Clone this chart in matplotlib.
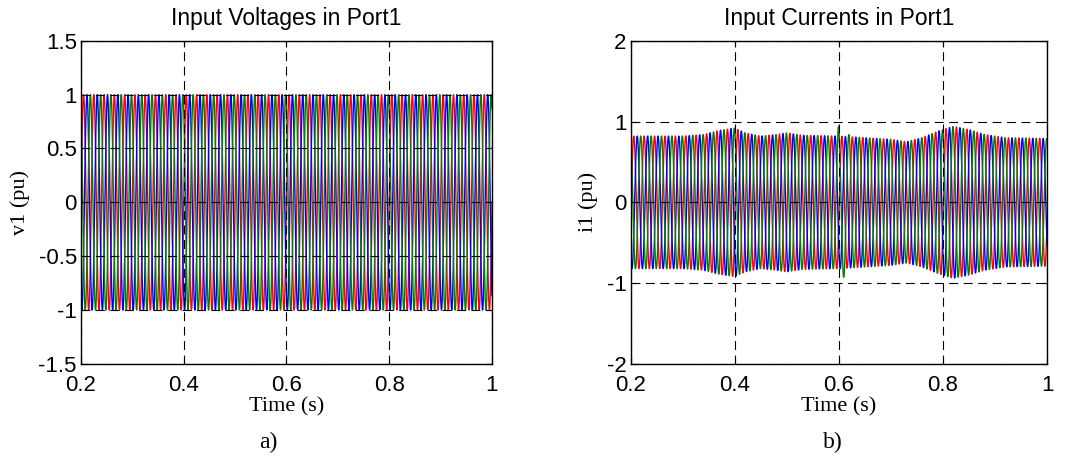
import numpy as np
import matplotlib.pyplot as plt

# three-phase waveforms, port 1
freq = 50.0                      # Hz
t_start, t_end = 0.2, 1.0
phase_shift = [0.0, -2*np.pi/3, 2*np.pi/3]
phase_colors = ['#ff0000', '#0000ff', '#008000']

v_amp = 1.0

# current envelope (pu)
env_t = [0.20, 0.30, 0.34, 0.37, 0.40, 0.42, 0.45, 0.48, 0.50, 0.53, 0.60,
         0.65, 0.70, 0.73, 0.76, 0.79, 0.82, 0.85, 0.88, 0.92, 1.00]
env_a = [0.82, 0.82, 0.84, 0.89, 0.92, 0.86, 0.82, 0.84, 0.86, 0.83, 0.82,
         0.80, 0.78, 0.75, 0.80, 0.88, 0.94, 0.90, 0.84, 0.80, 0.79]

# disturbance around t = 0.6 s on the green phase
dist_t = [0.595, 0.600, 0.603, 0.607, 0.611, 0.616, 0.625]
dist_a = [0.0, 0.14, -0.04, 0.10, 0.12, 0.04, 0.0]

t = np.linspace(t_start, t_end, 20001)
env = np.interp(t, env_t, env_a)
dist = np.interp(t, dist_t, dist_a)

fig = plt.figure(figsize=(10.74, 4.59), dpi=100)
ax1 = fig.add_axes([0.0754, 0.2070, 0.3827, 0.7043])
ax2 = fig.add_axes([0.5872, 0.2070, 0.3877, 0.7043])

sans = 'Liberation Sans'
serif = 'Liberation Serif'

for k in range(3):
    v = v_amp * np.sin(2*np.pi*freq*t + phase_shift[k])
    ax1.plot(t, v, color=phase_colors[k], lw=1.0)
    a = env + (dist if k == 2 else 0)
    i = a * np.sin(2*np.pi*freq*t + phase_shift[k] - 0.3)
    ax2.plot(t, i, color=phase_colors[k], lw=1.0)

panels = [
    (ax1, (-1.5, 1.5), np.arange(-1.5, 1.51, 0.5), ['-1.5', '-1', '-0.5', '0', '0.5', '1', '1.5'],
     'Input Voltages in Port1', 'v1 (pu)', -0.148, 'a)', 0.2495),
    (ax2, (-2, 2), np.arange(-2, 2.1, 1), ['-2', '-1', '0', '1', '2'],
     'Input Currents in Port1', 'i1 (pu)', -0.103, 'b)', 0.7756),
]
xticks = [0.2, 0.4, 0.6, 0.8, 1.0]
xlabels = ['0.2', '0.4', '0.6', '0.8', '1']

for ax, ylim, yt, ytl, title, ylab, ylx, tag, tagx in panels:
    ax.set_xlim(t_start, t_end)
    ax.set_ylim(*ylim)
    ax.set_xticks(xticks)
    ax.set_xticklabels(xlabels, fontfamily=sans, fontsize=16)
    ax.set_yticks(yt)
    ax.set_yticklabels(ytl, fontfamily=sans, fontsize=16)
    ax.tick_params(direction='in', length=4, top=True, right=True, width=0.8)
    ax.tick_params(axis='x', pad=8)
    ax.tick_params(axis='y', pad=3)
    ax.grid(True, color='black', lw=0.8, linestyle=(0, (8, 5)))
    ax.set_axisbelow(False)
    for s in ax.spines.values():
        s.set_linewidth(1.0)
    ax.set_title(title, fontfamily=sans, fontsize=16.5, pad=11)
    ax.set_xlabel('Time (s)', fontfamily=serif, fontsize=16)
    ax.xaxis.label.set_va('center')
    ax.xaxis.set_label_coords(0.5, -0.133)
    ax.set_ylabel(ylab, fontfamily=serif, fontsize=16)
    ax.yaxis.label.set_va('center')
    ax.yaxis.set_label_coords(ylx, 0.5)
    fig.text(tagx, 0.035, tag, fontfamily=serif, fontsize=17, ha='center', va='center')

fig.savefig('out.png', dpi=100)
